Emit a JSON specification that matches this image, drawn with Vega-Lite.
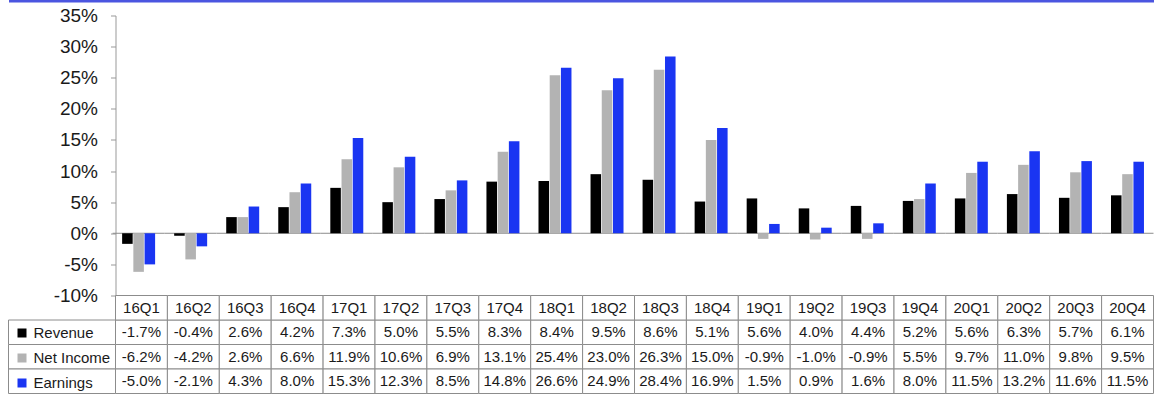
{
  "$schema": "https://vega.github.io/schema/vega-lite/v6.json",
  "autosize": {"type": "pad"},
  "padding": {"left": 7.5, "top": 0.5, "right": 0, "bottom": 0},
  "background": "white",
  "config": {
    "view": {"stroke": null},
    "font": "Liberation Sans",
    "locale": {"number": {"decimal": ".", "thousands": ",", "grouping": [3], "currency": ["$", ""], "minus": "-", "percent": "%"}}
  },
  "datasets": {
    "g": [
      {"q": "16Q1", "s": "Revenue", "v": -0.017}, {"q": "16Q2", "s": "Revenue", "v": -0.004}, {"q": "16Q3", "s": "Revenue", "v": 0.026}, {"q": "16Q4", "s": "Revenue", "v": 0.042},
      {"q": "17Q1", "s": "Revenue", "v": 0.073}, {"q": "17Q2", "s": "Revenue", "v": 0.050}, {"q": "17Q3", "s": "Revenue", "v": 0.055}, {"q": "17Q4", "s": "Revenue", "v": 0.083},
      {"q": "18Q1", "s": "Revenue", "v": 0.084}, {"q": "18Q2", "s": "Revenue", "v": 0.095}, {"q": "18Q3", "s": "Revenue", "v": 0.086}, {"q": "18Q4", "s": "Revenue", "v": 0.051},
      {"q": "19Q1", "s": "Revenue", "v": 0.056}, {"q": "19Q2", "s": "Revenue", "v": 0.040}, {"q": "19Q3", "s": "Revenue", "v": 0.044}, {"q": "19Q4", "s": "Revenue", "v": 0.052},
      {"q": "20Q1", "s": "Revenue", "v": 0.056}, {"q": "20Q2", "s": "Revenue", "v": 0.063}, {"q": "20Q3", "s": "Revenue", "v": 0.057}, {"q": "20Q4", "s": "Revenue", "v": 0.061},
      {"q": "16Q1", "s": "Net Income", "v": -0.062}, {"q": "16Q2", "s": "Net Income", "v": -0.042}, {"q": "16Q3", "s": "Net Income", "v": 0.026}, {"q": "16Q4", "s": "Net Income", "v": 0.066},
      {"q": "17Q1", "s": "Net Income", "v": 0.119}, {"q": "17Q2", "s": "Net Income", "v": 0.106}, {"q": "17Q3", "s": "Net Income", "v": 0.069}, {"q": "17Q4", "s": "Net Income", "v": 0.131},
      {"q": "18Q1", "s": "Net Income", "v": 0.254}, {"q": "18Q2", "s": "Net Income", "v": 0.230}, {"q": "18Q3", "s": "Net Income", "v": 0.263}, {"q": "18Q4", "s": "Net Income", "v": 0.150},
      {"q": "19Q1", "s": "Net Income", "v": -0.009}, {"q": "19Q2", "s": "Net Income", "v": -0.010}, {"q": "19Q3", "s": "Net Income", "v": -0.009}, {"q": "19Q4", "s": "Net Income", "v": 0.055},
      {"q": "20Q1", "s": "Net Income", "v": 0.097}, {"q": "20Q2", "s": "Net Income", "v": 0.110}, {"q": "20Q3", "s": "Net Income", "v": 0.098}, {"q": "20Q4", "s": "Net Income", "v": 0.095},
      {"q": "16Q1", "s": "Earnings", "v": -0.050}, {"q": "16Q2", "s": "Earnings", "v": -0.021}, {"q": "16Q3", "s": "Earnings", "v": 0.043}, {"q": "16Q4", "s": "Earnings", "v": 0.080},
      {"q": "17Q1", "s": "Earnings", "v": 0.153}, {"q": "17Q2", "s": "Earnings", "v": 0.123}, {"q": "17Q3", "s": "Earnings", "v": 0.085}, {"q": "17Q4", "s": "Earnings", "v": 0.148},
      {"q": "18Q1", "s": "Earnings", "v": 0.266}, {"q": "18Q2", "s": "Earnings", "v": 0.249}, {"q": "18Q3", "s": "Earnings", "v": 0.284}, {"q": "18Q4", "s": "Earnings", "v": 0.169},
      {"q": "19Q1", "s": "Earnings", "v": 0.015}, {"q": "19Q2", "s": "Earnings", "v": 0.009}, {"q": "19Q3", "s": "Earnings", "v": 0.016}, {"q": "19Q4", "s": "Earnings", "v": 0.080},
      {"q": "20Q1", "s": "Earnings", "v": 0.115}, {"q": "20Q2", "s": "Earnings", "v": 0.132}, {"q": "20Q3", "s": "Earnings", "v": 0.116}, {"q": "20Q4", "s": "Earnings", "v": 0.115}
    ]
  },
  "spacing": 0,
  "bounds": "flush",
  "vconcat": [
    {
      "width": 1145,
      "height": 280,
      "data": {"name": "g"},
      "encoding": {
        "y": {
          "field": "v", "type": "quantitative",
          "scale": {"domain": [-0.1, 0.35], "nice": false, "zero": false},
          "axis": {"format": ".0%", "values": [-0.1, -0.05, 0, 0.05, 0.1, 0.15, 0.2, 0.25, 0.3, 0.35], "tickCount": 10, "labelOverlap": false, "labelBound": false, "offset": -107, "tickSize": 5, "labelPadding": 13, "labelFontSize": 19, "labelColor": "#1a1a1a", "domainColor": "#999999", "tickColor": "#999999", "grid": false, "title": null}
        }
      },
      "layer": [
        {
          "transform": [{"filter": "datum.s === 'Revenue'"}],
          "mark": {"type": "rule", "stroke": "#8c8c8c", "strokeWidth": 1},
          "encoding": {
            "x": {"field": "q", "type": "nominal", "bandPosition": 0},
            "x2": {"field": "q", "bandPosition": 1},
            "y": {"datum": 0, "type": "quantitative"}
          }
        },
        {
          "mark": {"type": "bar"},
          "encoding": {
            "x": {
              "field": "q", "type": "nominal",
              "scale": {"domain": ["16Q1","16Q2","16Q3","16Q4","17Q1","17Q2","17Q3","17Q4","18Q1","18Q2","18Q3","18Q4","19Q1","19Q2","19Q3","19Q4","20Q1","20Q2","20Q3","20Q4"], "paddingInner": 0, "paddingOuter": 1.031, "align": 1},
              "axis": {"orient": "top", "labels": false, "ticks": false, "title": null, "domainColor": "#4b55e0", "domainWidth": 3, "offset": 15}
            },
            "xOffset": {
              "field": "s", "type": "nominal",
              "scale": {"domain": ["Revenue", "Net Income", "Earnings"], "paddingInner": 0.06, "paddingOuter": 0.85}
            },
            "color": {
              "field": "s", "type": "nominal",
              "scale": {"domain": ["Revenue", "Net Income", "Earnings"], "range": ["#000000", "#b3b3b3", "#1a35f2"]},
              "legend": {"orient": "none", "legendX": 6, "legendY": 310, "title": null, "symbolType": "square", "symbolSize": 81, "symbolStrokeWidth": 0, "labelFontSize": 15, "labelColor": "#1a1a1a", "rowPadding": 9, "padding": 0, "labelOffset": 4}
            }
          }
        }
      ]
    },
    {
      "spacing": 0,
      "bounds": "flush",
      "hconcat": [
        {
          "width": 107,
          "height": 98,
          "data": {"name": "g"},
          "transform": [{"filter": "datum.q === '16Q1'"}],
          "mark": {"type": "rect", "fill": "white", "stroke": "#8c8c8c", "strokeWidth": 1},
          "encoding": {
            "y": {"field": "s", "type": "nominal", "scale": {"domain": ["Quarter", "Revenue", "Net Income", "Earnings"], "paddingInner": 0, "paddingOuter": 0}, "axis": null}
          }
        },
        {
          "width": 1038,
          "height": 98,
          "data": {"name": "g"},
          "encoding": {
            "x": {"field": "q", "type": "nominal", "scale": {"domain": ["16Q1","16Q2","16Q3","16Q4","17Q1","17Q2","17Q3","17Q4","18Q1","18Q2","18Q3","18Q4","19Q1","19Q2","19Q3","19Q4","20Q1","20Q2","20Q3","20Q4"], "paddingInner": 0, "paddingOuter": 0}, "axis": null}
          },
          "layer": [
            {
              "mark": {"type": "rect", "fill": "white", "stroke": "#8c8c8c", "strokeWidth": 1},
              "encoding": {
                "y": {"field": "s", "type": "nominal", "scale": {"domain": ["Quarter", "Revenue", "Net Income", "Earnings"], "paddingInner": 0, "paddingOuter": 0}, "axis": null}
              }
            },
            {
              "transform": [{"filter": "datum.s === 'Revenue'"}],
              "mark": {"type": "rect", "fill": "white", "stroke": "#8c8c8c", "strokeWidth": 1},
              "encoding": {
                "y": {"datum": "Quarter", "type": "nominal"}
              }
            },
            {
              "mark": {"type": "text", "fontSize": 15, "color": "#1a1a1a", "align": "center", "baseline": "middle"},
              "encoding": {
                "y": {"field": "s", "type": "nominal"},
                "text": {"field": "v", "type": "quantitative", "format": ".1%"}
              }
            },
            {
              "transform": [{"filter": "datum.s === 'Revenue'"}],
              "mark": {"type": "text", "fontSize": 15, "color": "#1a1a1a", "align": "center", "baseline": "middle"},
              "encoding": {
                "y": {"datum": "Quarter", "type": "nominal"},
                "text": {"field": "q", "type": "nominal"}
              }
            }
          ]
        }
      ]
    }
  ]
}
